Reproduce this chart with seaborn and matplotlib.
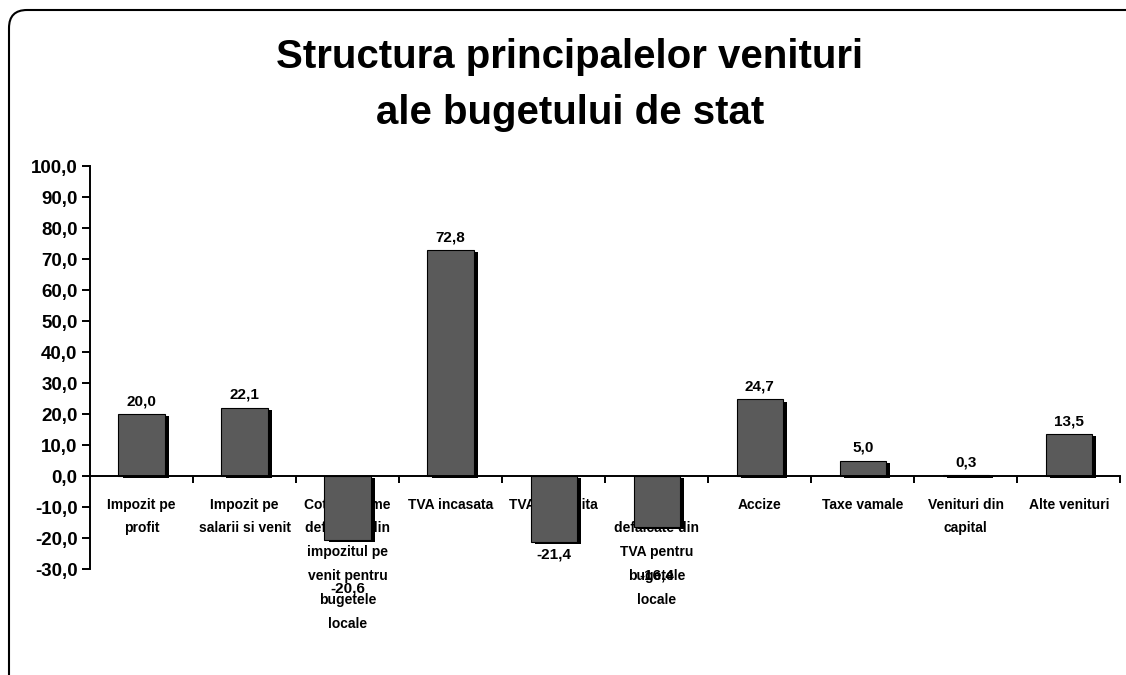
import matplotlib
matplotlib.use("Agg")
import matplotlib.pyplot as plt
import matplotlib.patheffects as pe
from matplotlib.patches import FancyBboxPatch
from matplotlib.transforms import IdentityTransform
from matplotlib.ticker import FixedLocator, FuncFormatter
import pandas as pd
import seaborn as sns

# --- data ---
categories = [
    "Impozit pe\nprofit",
    "Impozit pe\nsalarii si venit",
    "Cote si sume\ndefalcate din\nimpozitul pe\nvenit pentru\nbugetele\nlocale",
    "TVA incasata",
    "TVA restituita",
    "Sume\ndefalcate din\nTVA pentru\nbugetele\nlocale",
    "Accize",
    "Taxe vamale",
    "Venituri din\ncapital",
    "Alte venituri",
]
values = [20.0, 22.1, -20.6, 72.8, -21.4, -16.4, 24.7, 5.0, 0.3, 13.5]
y_ticks = [-30, -20, -10, 0, 10, 20, 30, 40, 50, 60, 70, 80, 90, 100]
title = "Structura principalelor venituri\nale bugetului de stat"

df = pd.DataFrame({"categorie": categories, "valoare": values})

sns.set_style("white")
plt.rcParams["font.family"] = ["Liberation Sans", "DejaVu Sans"]
plt.rcParams["font.weight"] = "bold"
plt.rcParams["text.color"] = "black"
plt.rcParams["xtick.color"] = "black"
plt.rcParams["ytick.color"] = "black"
plt.rcParams["axes.edgecolor"] = "black"

fig = plt.figure(figsize=(11.26, 6.75), dpi=100)
ax = fig.add_axes([0.080, 0.157, 0.915, 0.597])

sns.barplot(data=df, x="categorie", y="valoare", order=categories,
            color="#5a5a5a", saturation=1, width=0.45,
            edgecolor="black", linewidth=0.8, ax=ax, zorder=3)

for bar in ax.patches:
    bar.set_path_effects([
        pe.SimplePatchShadow(offset=(3, -1.5), shadow_rgbFace="black", alpha=1.0),
        pe.Normal(),
    ])

# value labels; two of the negative ones sit further down in the original
label_offsets = [4, 4, 30, 4, 4, 30, 4, 4, 4, 4]
for bar, v, off in zip(ax.patches, values, label_offsets):
    x = bar.get_x() + bar.get_width() / 2
    sign = 1 if v >= 0 else -1
    ax.annotate(f"{v:.1f}".replace(".", ","), xy=(x, v), xytext=(0, sign * off),
                textcoords="offset points", ha="center",
                va="bottom" if v >= 0 else "top",
                fontsize=11, fontweight="bold", zorder=6)

ax.set_xlim(-0.5, len(categories) - 0.5)
ax.set_ylim(-30, 100)
ax.yaxis.set_major_locator(FixedLocator(y_ticks))
ax.yaxis.set_major_formatter(FuncFormatter(lambda v, p: f"{v:.1f}".replace(".", ",")))

for side in ["top", "right"]:
    ax.spines[side].set_visible(False)
ax.spines["bottom"].set_position(("data", 0))
ax.spines["left"].set_bounds(-30, 100)
for side in ["left", "bottom"]:
    ax.spines[side].set_linewidth(1.4)
    ax.spines[side].set_zorder(5)

ax.set_xlabel("")
ax.set_ylabel("")
ax.tick_params(axis="y", direction="out", length=6, width=1.4, pad=3,
               labelsize=13.5, left=True)
ax.tick_params(axis="x", which="major", length=0, pad=15.5)
ax.set_xticks([i + 0.5 for i in range(len(categories))], minor=True)
ax.tick_params(axis="x", which="minor", direction="out", length=5, width=1.4, bottom=True)

for lbl in ax.get_xticklabels():
    lbl.set_fontsize(10)
    lbl.set_fontweight("bold")
    lbl.set_linespacing(1.9)
    lbl.set_verticalalignment("top")
for lbl in ax.get_yticklabels():
    lbl.set_fontweight("bold")

fig.text(0.506, 0.874, title, ha="center", va="center", fontsize=29,
         fontweight="bold", linespacing=1.6)

frame = FancyBboxPatch((9, -20), 1140, 685,
                       boxstyle="round,pad=0,rounding_size=18",
                       transform=IdentityTransform(), fill=False,
                       edgecolor="black", linewidth=1.5)
fig.add_artist(frame)

fig.savefig("out.png", dpi=100, facecolor="white")
